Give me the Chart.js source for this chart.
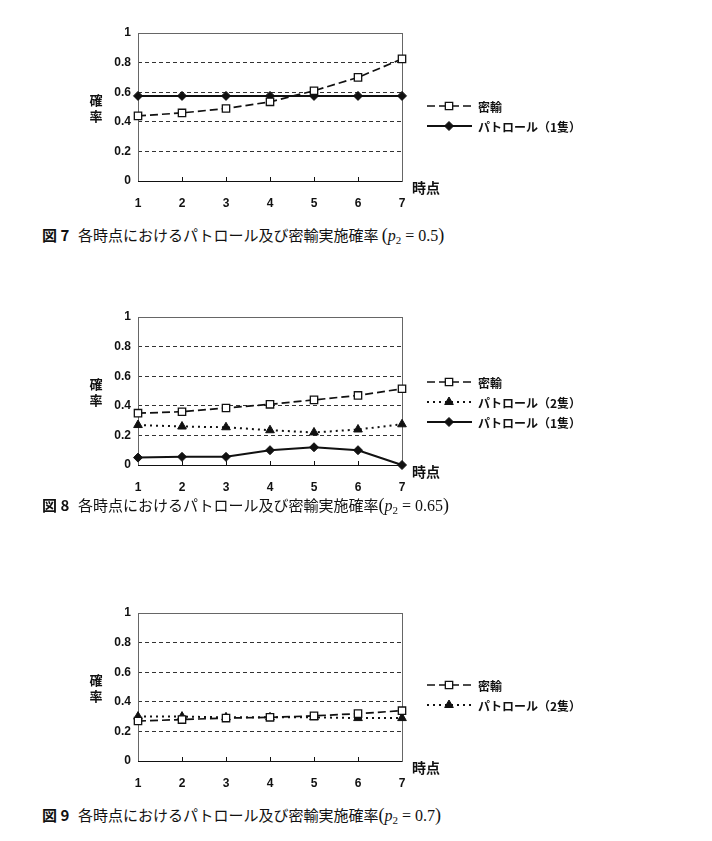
<!DOCTYPE html>
<html><head><meta charset="utf-8">
<script src="https://cdn.jsdelivr.net/npm/chart.js@4.4.0/dist/chart.umd.min.js"></script>
<style>
html,body{margin:0;padding:0;background:#fff;width:712px;height:841px;overflow:hidden;position:relative;}
canvas{position:absolute;left:0;}
.cap{position:absolute;font-family:"Noto Sans CJK JP","Noto Sans";font-size:15px;color:#111;white-space:nowrap;line-height:18px;}
.fig{font-weight:bold;}
.m{font-family:"Liberation Serif","DejaVu Serif";font-size:16px;}
.m .par{font-size:18px;}
.m sub{font-size:11px;vertical-align:-3px;line-height:0;}
</style></head><body>
<canvas id="c7"></canvas>
<canvas id="c8"></canvas>
<canvas id="c9"></canvas>
<div class="cap fig" style="left:42px;top:226px">図 7</div>
<div class="cap" style="left:78px;top:226px">各時点におけるパトロール及び密輸実施確率 <span class="m"><span class="par">(</span><i>p</i><sub>2</sub> = 0.5<span class="par">)</span></span></div>
<div class="cap fig" style="left:42px;top:496px">図 8</div>
<div class="cap" style="left:78px;top:496px">各時点におけるパトロール及び密輸実施確率<span class="m"><span class="par">(</span><i>p</i><sub>2</sub> = 0.65<span class="par">)</span></span></div>
<div class="cap fig" style="left:42px;top:806px">図 9</div>
<div class="cap" style="left:78px;top:806px">各時点におけるパトロール及び密輸実施確率<span class="m"><span class="par">(</span><i>p</i><sub>2</sub> = 0.7<span class="par">)</span></span></div>
<script>
// ---- data ----
const categories = ['1', '2', '3', '4', '5', '6', '7'];
const yTickValues = [0, 0.2, 0.4, 0.6, 0.8, 1];
const labelMitsuyu = '密輸';
const labelPatrol2 = 'パトロール（2隻）';
const labelPatrol1 = 'パトロール（1隻）';

const fig7Mitsuyu = [0.44, 0.46, 0.49, 0.535, 0.61, 0.70, 0.825];
const fig7Patrol1 = [0.575, 0.575, 0.575, 0.575, 0.575, 0.575, 0.575];

const fig8Mitsuyu = [0.35, 0.36, 0.385, 0.41, 0.44, 0.47, 0.515];
const fig8Patrol2 = [0.27, 0.26, 0.255, 0.235, 0.22, 0.24, 0.275];
const fig8Patrol1 = [0.05, 0.055, 0.055, 0.10, 0.12, 0.10, 0.0];

const fig9Mitsuyu = [0.27, 0.28, 0.29, 0.295, 0.305, 0.32, 0.34];
const fig9Patrol2 = [0.30, 0.30, 0.295, 0.295, 0.295, 0.29, 0.29];

// ---- styles ----
const styles = {
  mitsuyu: {borderColor:'#111', borderWidth:1.7, borderDash:[8,4], pointStyle:'rect', pointRadius:5.2,
            pointBackgroundColor:'#fff', pointBorderColor:'#111', pointBorderWidth:1.3},
  patrol2: {borderColor:'#111', borderWidth:2, borderDash:[2,4], pointStyle:'triangle', pointRadius:5,
            pointBackgroundColor:'#111', pointBorderColor:'#111', pointBorderWidth:1},
  patrol1: {borderColor:'#111', borderWidth:2, borderDash:[], pointStyle:'rectRot', pointRadius:4.5,
            pointBackgroundColor:'#111', pointBorderColor:'#111', pointBorderWidth:1}
};

const deco = {
  id: 'panelDeco',
  beforeDatasetsDraw(chart) {
    const {ctx, chartArea: a} = chart;
    ctx.save();
    ctx.setLineDash([]);
    ctx.strokeStyle = '#666'; ctx.lineWidth = 1;
    ctx.strokeRect(Math.round(a.left) + 0.5, Math.round(a.top) + 0.5, Math.round(a.right - a.left), Math.round(a.bottom - a.top));
    ctx.strokeStyle = '#111';
    ctx.beginPath(); ctx.moveTo(a.left, Math.round(a.bottom) + 0.5); ctx.lineTo(a.right, Math.round(a.bottom) + 0.5); ctx.stroke();
    const xs = chart.scales.x;
    xs.ticks.forEach((t, i) => {
      if (i === 0 || i === xs.ticks.length - 1) return;
      const px = Math.round(xs.getPixelForTick(i)) + 0.5;
      ctx.beginPath(); ctx.moveTo(px, a.bottom); ctx.lineTo(px, a.bottom - 4); ctx.stroke();
    });
    ctx.restore();
  },
  afterDraw(chart, args, opts) {
    const {ctx, chartArea: a} = chart;
    ctx.save();
    ctx.fillStyle = '#111';
    ctx.font = 'bold 13px "Noto Sans CJK JP"';
    ctx.textAlign = 'center'; ctx.textBaseline = 'middle';
    const mid = (a.top + a.bottom) / 2 + 1;
    ctx.fillText('確', 96, mid - 8);
    ctx.fillText('率', 96, mid + 8);
    ctx.textAlign = 'left';
    ctx.font = 'bold 14px "Noto Sans CJK JP"';
    ctx.fillText('時点', a.right + 10, a.bottom + 7);
    // legend
    const ys = opts.legendYs || [];
    chart.data.datasets.forEach((ds, i) => {
      const y = ys[i] - chart.canvas.offsetTop;
      const x0 = a.right + 25, x1 = a.right + 70, xm = a.right + 47;
      ctx.save();
      ctx.strokeStyle = ds.borderColor; ctx.lineWidth = ds.borderWidth;
      ctx.setLineDash(ds.borderDash || []);
      ctx.beginPath(); ctx.moveTo(x0, y); ctx.lineTo(x1, y); ctx.stroke();
      ctx.setLineDash([]);
      ctx.fillStyle = ds.pointBackgroundColor; ctx.strokeStyle = ds.pointBorderColor; ctx.lineWidth = ds.pointBorderWidth;
      Chart.helpers.drawPoint(ctx, {pointStyle: ds.pointStyle, radius: ds.pointRadius, rotation: 0, borderWidth: ds.pointBorderWidth}, xm, y);
      ctx.restore();
      ctx.fillStyle = '#111';
      ctx.font = 'bold 12px "Noto Sans CJK JP"';
      ctx.textAlign = 'left'; ctx.textBaseline = 'middle';
      ctx.fillText(ds.label, a.right + 76, y + 1);
    });
    ctx.restore();
  }
};

function makePanel(id, plotTop, plotBottom, series, legendYs) {
  const canvasTop = plotTop - 20;
  const H = plotBottom - plotTop + 50;
  const cv = document.getElementById(id);
  cv.width = 712; cv.height = H;
  cv.style.top = canvasTop + 'px'; cv.style.width = '712px'; cv.style.height = H + 'px';
  new Chart(cv, {
    type: 'line',
    data: {
      labels: categories,
      datasets: series.map(s => Object.assign({label: s.label, data: s.data, clip: false, tension: 0, fill: false}, styles[s.kind]))
    },
    options: {
      responsive: false, animation: false, devicePixelRatio: 1,
      layout: {padding: {top: 20, left: 0, right: 310, bottom: 0}},
      plugins: {legend: {display: false}, tooltip: {enabled: false}, panelDeco: {legendYs}},
      scales: {
        x: {
          type: 'category', offset: false,
          grid: {display: false, drawTicks: false},
          border: {display: false},
          ticks: {padding: 15, color: '#111', autoSkip: false, maxRotation: 0,
                  font: {family: '"Liberation Sans", Arial', size: 12, weight: 'bold'}},
          afterFit(s) { s.height = 30; }
        },
        y: {
          min: 0, max: 1,
          afterBuildTicks(s) { s.ticks = yTickValues.map(v => ({value: v})); },
          grid: {drawTicks: false, lineWidth: 1,
                 color: c => (c.tick && (c.tick.value === 0 || c.tick.value === 1)) ? 'rgba(0,0,0,0)' : '#333'},
          border: {display: false, dash: [4, 3]},
          ticks: {padding: 7, color: '#111', callback: v => String(Math.round(v * 10) / 10),
                  font: {family: '"Liberation Sans", Arial', size: 12, weight: 'bold'}},
          afterFit(s) { s.width = 138; }
        }
      }
    },
    plugins: [deco]
  });
}

makePanel('c7', 33, 181, [
  {label: labelMitsuyu, data: fig7Mitsuyu, kind: 'mitsuyu'},
  {label: labelPatrol1, data: fig7Patrol1, kind: 'patrol1'}
], [106, 126]);

makePanel('c8', 317, 465, [
  {label: labelMitsuyu, data: fig8Mitsuyu, kind: 'mitsuyu'},
  {label: labelPatrol2, data: fig8Patrol2, kind: 'patrol2'},
  {label: labelPatrol1, data: fig8Patrol1, kind: 'patrol1'}
], [382, 402, 422]);

makePanel('c9', 613, 761, [
  {label: labelMitsuyu, data: fig9Mitsuyu, kind: 'mitsuyu'},
  {label: labelPatrol2, data: fig9Patrol2, kind: 'patrol2'}
], [685, 705]);
</script>
</body></html>
